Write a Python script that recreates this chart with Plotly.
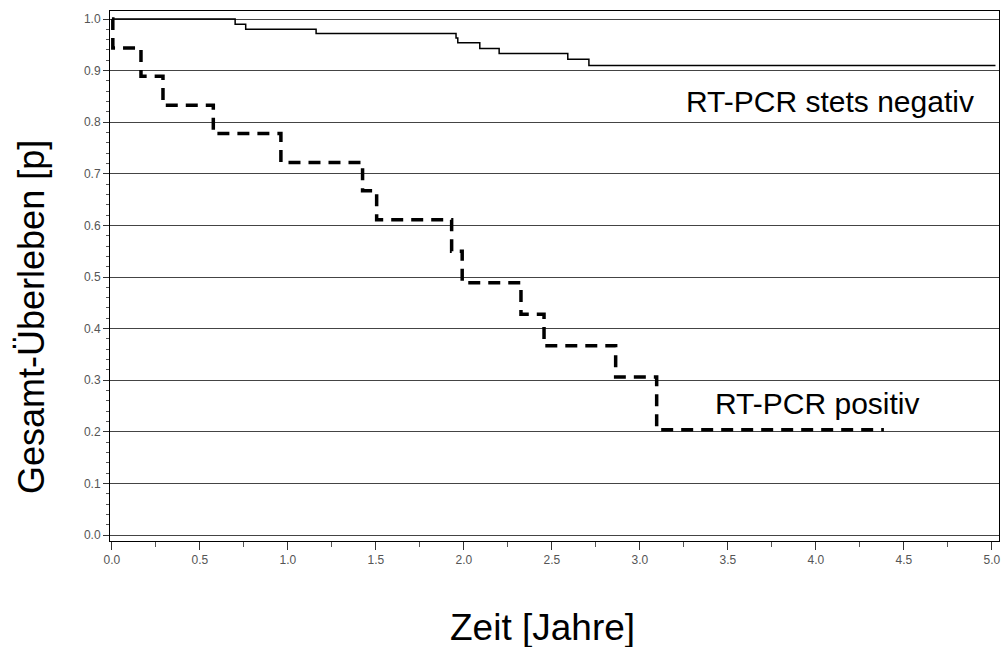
import plotly.graph_objects as go

# Kaplan-Meier step data
neg_times = [0.0, 0.70, 0.76, 1.16, 1.955, 1.965, 2.09, 2.20, 2.59, 2.71, 5.02]
neg_surv = [1.0, 0.99, 0.98, 0.972, 0.963, 0.954, 0.943, 0.933, 0.922, 0.91, 0.91]

pos_times = [0.0, 0.005, 0.165, 0.29, 0.576, 0.96, 1.424, 1.504, 1.93, 1.99,
             2.324, 2.455, 2.862, 3.095, 4.386]
pos_surv = [1.0, 0.944, 0.889, 0.833, 0.778, 0.722, 0.667, 0.611, 0.55, 0.489,
            0.428, 0.367, 0.306, 0.204, 0.204]

x_ticks = [0.0, 0.5, 1.0, 1.5, 2.0, 2.5, 3.0, 3.5, 4.0, 4.5, 5.0]
y_ticks = [0.0, 0.1, 0.2, 0.3, 0.4, 0.5, 0.6, 0.7, 0.8, 0.9, 1.0]

label_neg = "RT-PCR stets negativ"
label_pos = "RT-PCR positiv"
x_title = "Zeit [Jahre]"
y_title = "Gesamt-Überleben [p]"

FONT = "Liberation Sans, Arial, sans-serif"

fig = go.Figure()
fig.add_trace(go.Scatter(x=neg_times, y=neg_surv, mode="lines", line_shape="hv",
                         line=dict(color="black", width=1.5), showlegend=False))
fig.add_trace(go.Scatter(x=pos_times, y=pos_surv, mode="lines", line_shape="hv",
                         line=dict(color="black", width=3.5, dash="12px,8px"),
                         showlegend=False))

fig.update_layout(
    width=1003, height=647,
    margin=dict(l=110, r=4, t=11, b=106),
    paper_bgcolor="white", plot_bgcolor="white",
    font=dict(family=FONT, color="black"),
    xaxis=dict(range=[-0.011, 5.04], showgrid=False, zeroline=False, automargin=False,
               showline=True, linecolor="black", linewidth=1, mirror=True,
               tickmode="array", tickvals=x_ticks,
               ticktext=[f"{v:.1f}" for v in x_ticks],
               ticks="outside", ticklen=8, tickcolor="#333", tickwidth=1,
               tickfont=dict(size=12, color="#555", family=FONT),
               minor=dict(dtick=0.25, tick0=0, ticks="outside", ticklen=5,
                          tickcolor="#555", showgrid=False)),
    yaxis=dict(range=[-0.0116, 1.0155], showgrid=True, gridcolor="#444",
               gridwidth=1, zeroline=False, automargin=False,
               showline=True, linecolor="black", linewidth=1, mirror=True,
               tickmode="array", tickvals=y_ticks,
               ticktext=[f"{v:.1f}" for v in y_ticks],
               ticks="outside", ticklen=6, tickcolor="#333", tickwidth=1,
               tickfont=dict(size=12, color="#555", family=FONT),
               minor=dict(dtick=0.02, tick0=0, ticks="outside", ticklen=3,
                          tickcolor="#555", showgrid=False)),
    annotations=[
        dict(x=4.08, y=0.841, xref="x", yref="y", text=label_neg, showarrow=False,
             xanchor="center", yanchor="middle",
             font=dict(size=30, family=FONT, color="black")),
        dict(x=4.01, y=0.254, xref="x", yref="y", text=label_pos, showarrow=False,
             xanchor="center", yanchor="middle",
             font=dict(size=30, family=FONT, color="black")),
        dict(x=0.486, y=-0.164, xref="paper", yref="paper", text=x_title,
             showarrow=False, xanchor="center", yanchor="middle",
             font=dict(size=37, family=FONT, color="black")),
        dict(x=-0.0889, y=0.4226, xref="paper", yref="paper", text=y_title,
             showarrow=False, textangle=-90, xanchor="center", yanchor="middle",
             font=dict(size=36, family=FONT, color="black")),
    ],
)

# remove the default 8px page margin so the figure sits at the window origin
fig.write_html("out.html", config={"displayModeBar": False},
               post_script="document.body.style.margin='0';")
